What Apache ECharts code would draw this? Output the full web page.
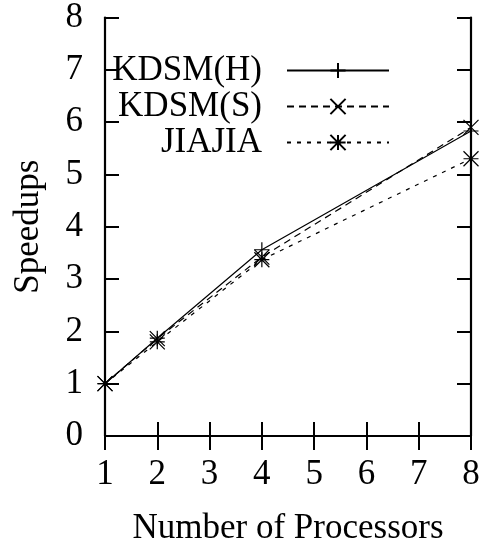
<!DOCTYPE html>
<html>
<head>
<meta charset="utf-8">
<script src="https://cdn.jsdelivr.net/npm/echarts@6/dist/echarts.min.js"></script>
<style>
html,body{margin:0;padding:0;background:#fff;}
#chart{width:483px;height:551px;}
</style>
</head>
<body>
<div id="chart"></div>
<script>
const processors = [1, 2, 4, 8];
const kdsmH = [1, 1.87, 3.56, 5.83];
const kdsmS = [1, 1.86, 3.42, 5.9];
const jiajia = [1, 1.8, 3.37, 5.3];
const seriesNames = ['KDSM(H)', 'KDSM(S)', 'JIAJIA'];
const xTicks = [1, 2, 3, 4, 5, 6, 7, 8];
const yTicks = [0, 1, 2, 3, 4, 5, 6, 7, 8];

const FONT = "'Liberation Serif', 'Times New Roman', serif";
const FS = 35;
const symPlus = 'path://M0,5L10,5M5,0L5,10';
const symCross = 'path://M0,0L10,10M10,0L0,10';
const symStar = 'path://M0,5L10,5M5,0L5,10M0,0L10,10M10,0L0,10';

function pairs(ys) { return processors.map((x, i) => [x, ys[i]]); }

const chart = echarts.init(document.getElementById('chart'), null, {renderer: 'canvas'});

const axisCommon = {
  axisLine: {show: true, lineStyle: {color: '#000', width: 2.2}},
  axisTick: {show: true, inside: true, length: 14, lineStyle: {color: '#000', width: 2}},
  splitLine: {show: false}
};

function legendFor(name, top) {
  return {
    data: [name],
    right: 93,
    top: top,
    padding: 0,
    align: 'right',
    itemWidth: 102,
    itemHeight: 19,
    textStyle: {fontFamily: FONT, fontSize: FS, color: '#000', padding: [0, 20, 0, 0]},
    selectedMode: false
  };
}

function mkSeries(name, ys, sym, dash, width) {
  return {
    name: name,
    type: 'line',
    data: pairs(ys),
    symbol: sym,
    symbolSize: 15,
    showSymbol: true,
    color: '#000',
    lineStyle: {color: '#000', width: width, type: dash},
    itemStyle: {color: '#000', borderColor: '#000', borderWidth: 1.2},
    emphasis: {disabled: true},
    animation: false,
    z: 3
  };
}

chart.setOption({
  backgroundColor: '#fff',
  animation: false,
  grid: {left: 105, right: 12, top: 17, bottom: 114, containLabel: false},
  legend: [legendFor(seriesNames[0], 53), legendFor(seriesNames[1], 89), legendFor(seriesNames[2], 125)],
  xAxis: [
    Object.assign({
      type: 'value', min: xTicks[0], max: xTicks[xTicks.length - 1], interval: 1,
      position: 'bottom',
      name: 'Number of Processors', nameLocation: 'middle', nameGap: 75,
      nameTextStyle: {fontFamily: FONT, fontSize: FS, color: '#000'},
      axisLabel: {fontFamily: FONT, fontSize: FS, color: '#000', margin: 21}
    }, axisCommon),
    Object.assign({
      type: 'value', min: xTicks[0], max: xTicks[xTicks.length - 1], interval: 1,
      position: 'top', axisLabel: {show: false}
    }, axisCommon)
  ],
  yAxis: [
    Object.assign({
      type: 'value', min: yTicks[0], max: yTicks[yTicks.length - 1], interval: 1,
      position: 'left',
      name: 'Speedups', nameLocation: 'middle', nameGap: 59,
      nameTextStyle: {fontFamily: FONT, fontSize: FS, color: '#000'},
      axisLabel: {fontFamily: FONT, fontSize: FS, color: '#000', margin: 22}
    }, axisCommon),
    Object.assign({
      type: 'value', min: yTicks[0], max: yTicks[yTicks.length - 1], interval: 1,
      position: 'right', axisLabel: {show: false}
    }, axisCommon)
  ],
  series: [
    mkSeries(seriesNames[0], kdsmH, symPlus, 'solid', 1.2),
    mkSeries(seriesNames[1], kdsmS, symCross, [7, 5], 1.2),
    mkSeries(seriesNames[2], jiajia, symStar, [4, 6], 1.2)
  ]
});
</script>
</body>
</html>
